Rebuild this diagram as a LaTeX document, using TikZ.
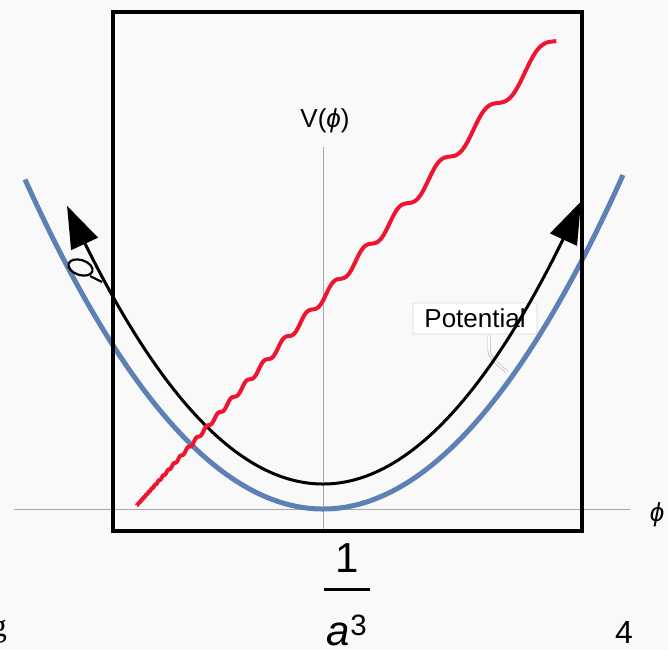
\documentclass[tikz,border=0pt]{standalone}
\usepackage{fontspec}
\setmainfont{Liberation Sans}
\newfontfamily\serifcut{Liberation Serif}
\usetikzlibrary{arrows.meta}
\definecolor{bgc}{HTML}{F9F9F9}
\definecolor{potblue}{HTML}{5E81B5}
\definecolor{wred}{HTML}{EE1530}
\definecolor{axisgray}{HTML}{A8A8A8}
\tikzset{
  axisline/.style={draw=axisgray, line width=1pt},
  frame/.style={draw=black, line width=3.5pt},
  potcurve/.style={draw=potblue, line width=5pt},
  flowcurve/.style={draw=black, line width=3pt,
    {Triangle[length=42pt,width=29pt]}-{Triangle[length=42pt,width=29pt]}},
  redcurve/.style={draw=wred, line width=4pt, line join=round},
  bigtext/.style={font=\fontsize{26}{28}\selectfont, inner sep=0pt},
  calloutbox/.style={draw=gray!30, fill=white, line width=0.8pt, rounded corners=1.5pt,
    minimum width=124pt, minimum height=31pt, inner sep=0pt, font=\fontsize{26}{28}\selectfont},
}
\begin{document}
\begin{tikzpicture}[x=1pt,y=-1pt]
\useasboundingbox (0,0) rectangle (668,649);
\clip (0,0) rectangle (668,649);
\fill[bgc] (0,0) rectangle (668,649);

% axes
\coordinate (hx0) at (14,509);
\coordinate (hx1) at (630,509);
\coordinate (vy0) at (323,147);
\coordinate (vy1) at (323,531);
\draw[axisline] (hx0) -- (hx1);
\draw[axisline] (vy0) -- (vy1);

% potential curve
\draw[potcurve] plot[domain=25:623, samples=160] (\x, {509-37.11*((\x-323)/100)^2});

% callout
\node[calloutbox] (pot) at (475,318.5) {Potential};
\coordinate (ptip) at (507,372);
\draw[draw=gray!55, line width=0.7pt, double=white, double distance=1.6pt]
  (pot.south) ++(14,1) coordinate (pstart) -- ++(0,14) .. controls ++(1,8) .. (ptip);

% black curve with arrows (right arrowhead cut at the frame)
\begin{scope}
\clip (0,0) rectangle (582,649);
\draw[flowcurve] plot[domain=67:581, samples=180] (\x, {484-42.45*((\x-323)/100)^2});
\end{scope}
% loop near left arrow
\coordinate (loopc) at (80.5,267.5);
\draw[line width=2.2pt] (loopc) ellipse [x radius=12.5, y radius=7.5, rotate=-18];
\coordinate (tail0) at (90,276);
\coordinate (tail1) at (102,282);
\draw[line width=2.2pt] (tail0) -- (tail1);

% frame
\coordinate (f1) at (113,12);
\coordinate (f2) at (582,531);
\draw[frame] (f1) rectangle (f2);

% red wavy line
\draw[redcurve] plot[domain=-29.3:0.06, samples=900, variable=\t]
  ({130+423*exp(0.14*\t)}, {513-471.5*exp(0.14*(\t-0.9*sin(360*\t)/(2*pi)))});

% labels
\node[bigtext, anchor=base] (vlab) at (325,127) {V(\textit{ϕ})};
\node[bigtext, anchor=base] (philab) at (657,521) {\textit{ϕ}};
\node[inner sep=0pt, anchor=base, font=\fontsize{42}{44}\selectfont] (one) at (347,572) {1};
\coordinate (r0) at (324,589);
\coordinate (r1) at (370,589);
\draw[line width=3pt] (r0) -- (r1);
\node[inner sep=0pt, anchor=base, font=\fontsize{42}{44}\selectfont] (aden) at (347,645) {\textit{a}\textsuperscript{3}};
\node[inner sep=0pt, anchor=base, font=\fontsize{32}{34}\selectfont] (four) at (624,643) {4};
\node[inner sep=0pt, anchor=base east, font=\serifcut\fontsize{32}{34}\selectfont] (gcut) at (7,636) {g};
\end{tikzpicture}
\end{document}
